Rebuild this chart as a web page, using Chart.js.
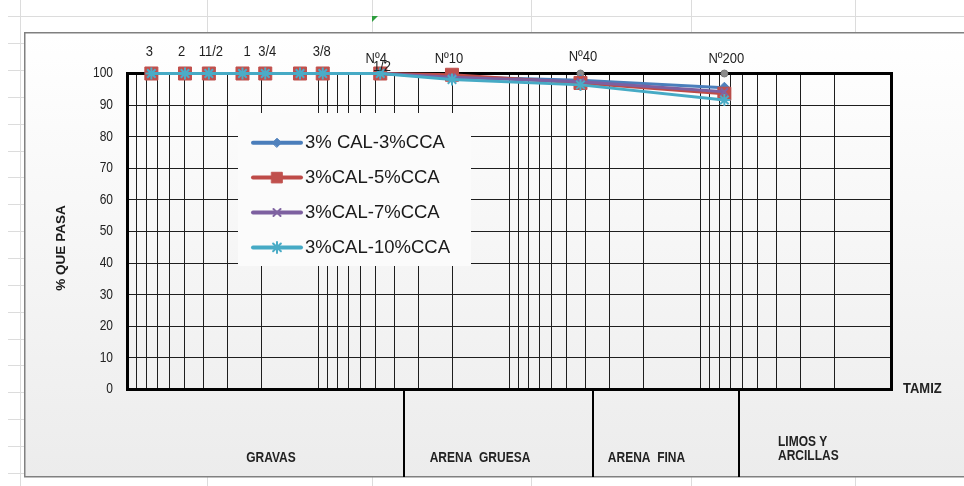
<!DOCTYPE html>
<html>
<head>
<meta charset="utf-8">
<script src="https://cdn.jsdelivr.net/npm/chart.js@4/dist/chart.umd.min.js"></script>
<style>
html,body{margin:0;padding:0;background:#fff;overflow:hidden}
canvas{display:block}
</style>
</head>
<body>
<canvas id="c" width="964" height="486"></canvas>
<script>
// ---- data ----
const sieveSizes  = [75, 50, 37.5, 25, 19, 12.5, 9.5, 4.75, 2.0, 0.425, 0.075];   // mm
const sieveLabels = ['3', '2', '11/2', '1', '3/4', '1/2', '3/8', 'Nº4', 'Nº10', 'Nº40', 'Nº200'];
const seriesNames = ['3% CAL-3%CCA', '3%CAL-5%CCA', '3%CAL-7%CCA', '3%CAL-10%CCA'];
const cal3cca3  = [100, 100, 100, 100, 100, 100, 100, 100, 99.0, 97.9, 95.5];
const cal3cca5  = [100, 100, 100, 100, 100, 100, 100, 100, 99.6, 97.0, 93.6];
const cal3cca7  = [100, 100, 100, 100, 100, 100, 100, 100, 98.8, 97.4, 94.2];
const cal3cca10 = [100, 100, 100, 100, 100, 100, 100, 100, 98.1, 96.4, 91.6];
const yTicks = [0, 10, 20, 30, 40, 50, 60, 70, 80, 90, 100];
const xDecades = [0.01, 0.1, 1, 10];
const xMultipliers = [1, 2, 3, 4, 5, 6, 7, 8, 9];
const zoneLimits = [3.56, 0.367, 0.063];   // mm, dividers of the soil-type table
const zoneNames = ['GRAVAS', 'ARENA  GRUESA', 'ARENA  FINA', 'LIMOS Y', 'ARCILLAS'];
const yTitle = '% QUE PASA';
const xTitle = 'TAMIZ';

const xGrid = [];
xDecades.forEach(d => xMultipliers.forEach(m => xGrid.push(+(d * m).toPrecision(3))));
xGrid.push(100);

const FONT = "'Liberation Sans', Arial, sans-serif";
const seriesStyle = [
  {line: '#4A7EBB', fill: '#4F81BD', shape: 'rectRot', r: 5.5, lr: 4.5, bw: 1},
  {line: '#BE4B48', fill: '#C0504D', shape: 'rect', r: 9.2, lr: 7.5, bw: 1},
  {line: '#7D60A0', fill: '#8064A2', shape: 'crossRot', r: 5, lr: 5, bw: 2},
  {line: '#46AAC5', fill: '#4BACC6', shape: 'star', r: 6, lr: 5.5, bw: 2}
];
const seriesData = [cal3cca3, cal3cca5, cal3cca7, cal3cca10];

function stretchText(ctx, s, x, y, font, align, sy, color) {
  ctx.save();
  ctx.translate(x, y);
  ctx.scale(1, sy);
  ctx.font = font;
  ctx.textAlign = align;
  ctx.textBaseline = 'middle';
  ctx.fillStyle = color;
  ctx.fillText(s, 0, 0);
  ctx.restore();
}

const decor = {
  id: 'decor',
  beforeDraw(chart) {
    const ctx = chart.ctx;
    ctx.save();
    ctx.fillStyle = '#ffffff';
    ctx.fillRect(0, 0, 964, 486);
    // worksheet grid
    ctx.strokeStyle = '#dcdcdc';
    ctx.lineWidth = 1;
    for (let y = 16.3; y < 486; y += 26.85) {
      const yy = Math.round(y) + 0.5;
      ctx.beginPath(); ctx.moveTo(8, yy); ctx.lineTo(964, yy); ctx.stroke();
    }
    [20.5, 207.5, 372.5, 531.5, 691.5, 855.5].forEach(x => {
      ctx.beginPath(); ctx.moveTo(x, 0); ctx.lineTo(x, 486); ctx.stroke();
    });
    // green error triangle
    ctx.fillStyle = '#2e9e3e';
    ctx.beginPath(); ctx.moveTo(372, 16); ctx.lineTo(378, 16); ctx.lineTo(372, 22); ctx.closePath(); ctx.fill();
    // chart object
    const g = ctx.createLinearGradient(0, 33, 0, 477);
    g.addColorStop(0, '#ffffff');
    g.addColorStop(1, '#ececec');
    ctx.fillStyle = g;
    ctx.fillRect(25, 33, 950, 444);
    ctx.strokeStyle = '#808080';
    ctx.lineWidth = 1.5;
    ctx.strokeRect(24.75, 32.75, 960, 444);
    ctx.restore();
  },
  beforeDatasetsDraw(chart) {
    const ctx = chart.ctx;
    const a = chart.chartArea;
    ctx.save();
    // legend box
    ctx.fillStyle = '#fbfbfb';
    ctx.fillRect(238, 113, 233, 153);
    // plot frame
    ctx.strokeStyle = '#000';
    ctx.lineWidth = 3;
    ctx.strokeRect(a.left, a.top, a.right - a.left, a.bottom - a.top);
    // legend entries
    seriesNames.forEach((name, i) => {
      const st = seriesStyle[i];
      const y = 142.7 + i * 34.9;
      ctx.strokeStyle = st.line;
      ctx.lineWidth = 4;
      ctx.lineCap = 'round';
      ctx.beginPath(); ctx.moveTo(253, y); ctx.lineTo(301, y); ctx.stroke();
      ctx.fillStyle = st.fill;
      ctx.strokeStyle = st.fill;
      ctx.lineWidth = st.bw;
      Chart.helpers.drawPoint(ctx, {pointStyle: st.shape, radius: st.lr, rotation: 0, borderWidth: st.bw}, 277, y);
      stretchText(ctx, name, 305, y + 0.5, '18.5px ' + FONT, 'left', 1, '#1a1a1a');
    });
    ctx.restore();
  },
  afterDraw(chart) {
    const ctx = chart.ctx;
    const a = chart.chartArea;
    const xs = chart.scales.x, ys = chart.scales.y;
    ctx.save();
    // y tick labels
    ys.ticks.forEach(t => {
      stretchText(ctx, String(t.value), a.left - 14.5, ys.getPixelForValue(t.value), '12px ' + FONT, 'right', 1.17, '#222');
    });
    // y title
    ctx.save();
    ctx.translate(61, 248);
    ctx.rotate(-Math.PI / 2);
    ctx.font = 'bold 13.5px ' + FONT;
    ctx.textAlign = 'center';
    ctx.textBaseline = 'middle';
    ctx.fillStyle = '#1a1a1a';
    ctx.fillText(yTitle, 0, 0);
    ctx.restore();
    // sieve labels above plot
    const lblShift = [-2, -3.5, 2, 4.5, 2, 82, -1, -4, -3, 2.5, 2];
    const lblRow   = [-21.5, -21.5, -21.5, -21.5, -21.5, -7, -21.5, -14.5, -14.5, -16.5, -14.5];
    sieveLabels.forEach((s, i) => {
      const x = xs.getPixelForValue(sieveSizes[i]) + lblShift[i];
      stretchText(ctx, s, x, a.top + lblRow[i], '13px ' + FONT, 'center', 1.15, '#1e1e1e');
    });
    // soil-type table dividers
    ctx.strokeStyle = '#000';
    ctx.lineWidth = 2;
    zoneLimits.forEach(v => {
      const x = Math.round(xs.getPixelForValue(v));
      ctx.beginPath(); ctx.moveTo(x, a.bottom); ctx.lineTo(x, 477); ctx.stroke();
    });
    const bf = 'bold 12px ' + FONT;
    stretchText(ctx, zoneNames[0], 271, 458, bf, 'center', 1.22, '#222');
    stretchText(ctx, zoneNames[1], 480, 458, bf, 'center', 1.22, '#222');
    stretchText(ctx, zoneNames[2], 646.5, 458, bf, 'center', 1.22, '#222');
    stretchText(ctx, zoneNames[3], 778, 442, bf, 'left', 1.22, '#222');
    stretchText(ctx, zoneNames[4], 778, 456, bf, 'left', 1.22, '#222');
    stretchText(ctx, xTitle, 903, 388.5, 'bold 13px ' + FONT, 'left', 1.15, '#222');
    ctx.restore();
  }
};

const datasets = seriesNames.map((name, i) => {
  const st = seriesStyle[i];
  return {
    label: name,
    data: sieveSizes.map((s, k) => ({x: s, y: seriesData[i][k]})),
    borderColor: st.line,
    backgroundColor: st.fill,
    pointBackgroundColor: st.fill,
    pointBorderColor: st.fill,
    pointBorderWidth: st.bw,
    pointStyle: st.shape,
    pointRadius: st.r,
    borderWidth: 3,
    borderJoinStyle: 'round',
    borderCapStyle: 'round',
    tension: 0,
    order: 4 - i,
    clip: false
  };
});
datasets.push({
  label: 'tamices',
  data: sieveSizes.map(s => ({x: s, y: 100})),
  showLine: false,
  pointRadius: 3.5,
  pointBackgroundColor: '#8c8c8c',
  pointBorderColor: '#7a7a7a',
  pointBorderWidth: 1,
  order: 9,
  clip: false
});

new Chart(document.getElementById('c'), {
  type: 'line',
  data: {datasets},
  options: {
    responsive: false,
    animation: false,
    events: [],
    layout: {padding: {left: 0, top: 73.5, right: 72.5, bottom: 0}},
    plugins: {legend: {display: false}, tooltip: {enabled: false}},
    scales: {
      x: {
        type: 'logarithmic',
        reverse: true,
        min: 0.01,
        max: 100,
        afterBuildTicks: s => { s.ticks = xGrid.map(v => ({value: v})); },
        afterFit: s => { s.height = 96.5; },
        ticks: {display: false, autoSkip: false},
        grid: {color: '#1e1e1e', lineWidth: 1, drawTicks: false},
        border: {display: false}
      },
      y: {
        min: 0,
        max: 100,
        afterBuildTicks: s => { s.ticks = yTicks.map(v => ({value: v})); },
        afterFit: s => { s.width = 127.5; },
        ticks: {display: false},
        grid: {color: '#1e1e1e', lineWidth: 1, drawTicks: false},
        border: {display: false}
      }
    }
  },
  plugins: [decor]
});
</script>
</body>
</html>
